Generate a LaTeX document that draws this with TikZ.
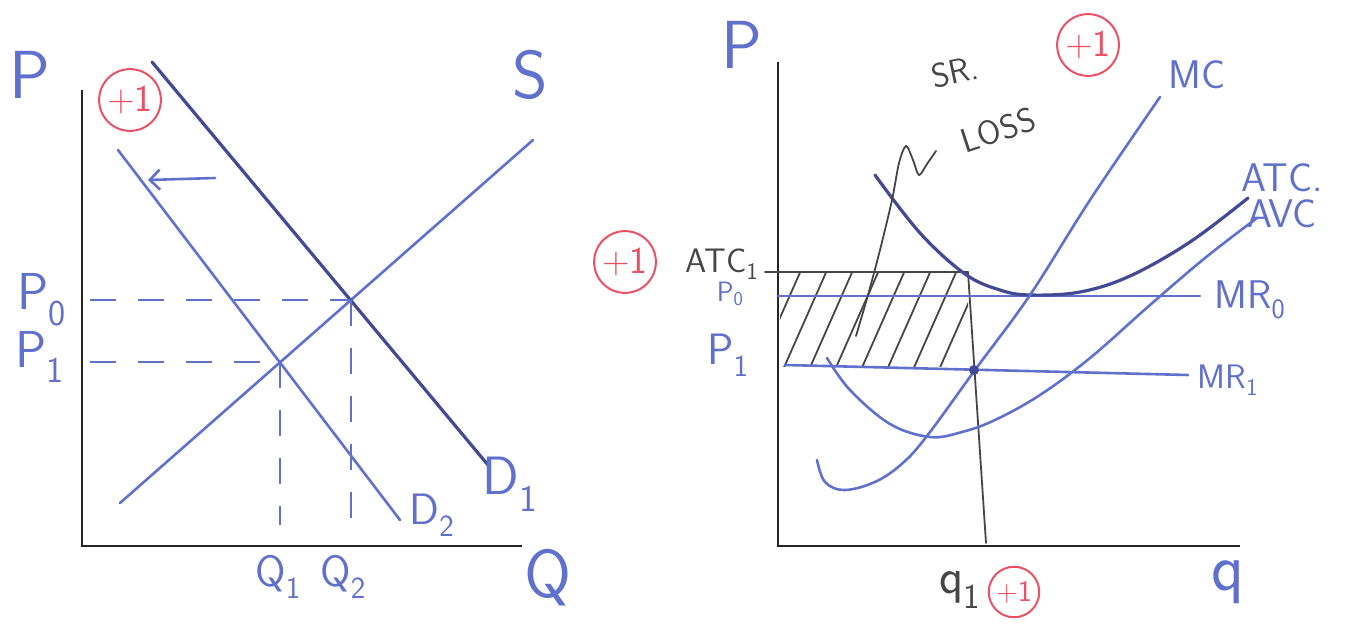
\documentclass[tikz,border=0pt]{standalone}
\usetikzlibrary{arrows.meta}
\definecolor{PenBlue}{RGB}{96,112,205}
\definecolor{InkBlue}{RGB}{66,74,150}
\definecolor{MarkRed}{RGB}{235,80,100}
\definecolor{Pencil}{RGB}{70,70,70}

\begin{document}
\begin{tikzpicture}[
    x=1pt, y=-1pt,
    >={Straight Barb[length=10pt,width=20pt]},
    axis/.style={draw=black!85, line width=2.2pt},
    pen/.style={draw=PenBlue, line width=2.6pt, line cap=round},
    ink/.style={draw=InkBlue, line width=3.2pt, line cap=round},
    pencil/.style={draw=Pencil, line width=1.8pt, line cap=round},
    guide/.style={draw=PenBlue, line width=2pt, dash pattern=on 26pt off 22pt},
    hand/.style={text=PenBlue, inner sep=0pt, font=\sffamily\fontsize{44}{44}\selectfont},
    big/.style={hand, font=\sffamily\fontsize{68}{68}\selectfont},
    small/.style={hand, font=\sffamily\fontsize{34}{34}\selectfont},
    note/.style={text=Pencil, inner sep=0pt, font=\sffamily\fontsize{34}{34}\selectfont},
    score/.style={draw=MarkRed, text=MarkRed, circle, line width=2pt,
        inner sep=3pt, minimum size=58pt, font=\sffamily\fontsize{38}{38}\selectfont}
]
\useasboundingbox (0,0) rectangle (1352,626);

% market: supply and demand
\coordinate (origL) at (82,546);
\coordinate (topL) at (82,90);
\coordinate (endL) at (522,546);
\draw[axis] (topL) -- (origL) -- (endL);

\coordinate (S0) at (120,503);
\coordinate (S1) at (533,140);
\coordinate (Da0) at (152,62);
\coordinate (Da1) at (488,465);
\coordinate (Db0) at (118,150);
\coordinate (Db1) at (400,520);
\draw[pen] (S0) -- (S1);
\draw[ink] (Da0) -- (Da1);
\draw[pen] (Db0) -- (Db1);

\coordinate (E0) at (intersection of S0--S1 and Da0--Da1);
\coordinate (E1) at (intersection of S0--S1 and Db0--Db1);
\draw[guide] (E0 -| origL) ++(8,0) -- (E0);
\draw[guide] (E1 -| origL) ++(8,0) -- (E1);
\draw[guide] (E1) -- (E1 |- 0,525);
\draw[guide] (E0) -- (E0 |- 0,525);

\coordinate (arrowA) at (215,178);
\coordinate (arrowB) at (148,180);
\draw[pen, ->] (arrowA) -- (arrowB);

\node[big] (pL) at (30,75) {P};
\node[big] (sL) at (530,75) {S};
\node[big] (qL) at (548,578) {Q};
\node[hand, font=\sffamily\fontsize{52}{52}\selectfont] (p0L) at (42,300) {P\textsubscript{0}};
\node[hand, font=\sffamily\fontsize{52}{52}\selectfont] (p1L) at (40,357) {P\textsubscript{1}};
\node[hand, font=\sffamily\fontsize{54}{54}\selectfont] (d1L) at (510,484) {D\textsubscript{1}};
\node[hand] (d2L) at (432,515) {D\textsubscript{2}};
\node[hand] (q1L) at (278,577) {Q\textsubscript{1}};
\node[hand] (q2L) at (343,577) {Q\textsubscript{2}};
\node[score, minimum width=56pt] (scoreL) at (130,100) {+1};

% firm: cost curves
\coordinate (origR) at (778,546);
\coordinate (topR) at (778,62);
\coordinate (endR) at (1240,546);
\draw[axis] (topR) -- (origR) -- (endR);

% shaded short-run loss
\begin{scope}
  \clip (780,272) rectangle (968,366);
  \foreach \x in {756,782,808,834,860,886,912,938}
    \draw[pencil] (\x,372) -- ++(46,-104);
\end{scope}

\coordinate (atcA) at (765,272);
\coordinate (atcB) at (968,272);
\coordinate (qBot) at (986,543);
\draw[pencil] (atcA) -- (atcB);
\draw[pencil] (atcB) -- (qBot);

\coordinate (mr0A) at (778,296);
\coordinate (mr0B) at (1200,296);
\coordinate (mr1A) at (785,365);
\coordinate (mr1B) at (1188,375);
\draw[pen] (mr0A) -- (mr0B);
\draw[pen] (mr1A) -- (mr1B);

\draw[ink] plot[smooth, tension=0.6] coordinates {(875,175) (920,233) (965,274)
  (1000,290) (1030,295) (1080,292) (1130,276) (1190,242) (1248,198)};
\draw[pen] plot[smooth, tension=0.6] coordinates {(817,460) (825,482) (845,490)
  (877,481) (905,461) (930,432) (975,370) (1030,295) (1090,200) (1160,97)};
\draw[pen] plot[smooth, tension=0.6] coordinates {(827,358) (850,390) (890,424)
  (930,437) (962,432) (995,420) (1040,395) (1090,358) (1150,305) (1205,258) (1257,218)};
\fill[InkBlue] (974,370) circle (5pt);

% pointer to the loss area
\draw[pencil] plot[smooth, tension=0.5] coordinates {(856,336) (868,295) (880,250)
  (892,200) (899,163) (906,146) (913,160) (919,175) (927,164) (936,151)};

\node[big] (pR) at (742,45) {P};
\node[big] (qR) at (1228,582) {q};
\node[hand, font=\sffamily\fontsize{40}{40}\selectfont] (mcR) at (1197,75) {MC};
\node[hand, font=\sffamily\fontsize{40}{40}\selectfont] (atcR) at (1282,178) {ATC.};
\node[hand, font=\sffamily\fontsize{40}{40}\selectfont] (avcR) at (1282,214) {AVC};
\node[hand, font=\sffamily\fontsize{40}{40}\selectfont] (mr0R) at (1250,300) {MR\textsubscript{0}};
\node[small] (mr1R) at (1228,380) {MR\textsubscript{1}};
\node[hand, font=\sffamily\fontsize{28}{28}\selectfont] (p0R) at (730,294) {P\textsubscript{0}};
\node[hand] (p1R) at (728,355) {P\textsubscript{1}};
\node[note] (atc1R) at (722,264) {ATC\textsubscript{1}};
\node[note, rotate=12] (srR) at (955,72) {SR.};
\node[note, rotate=18] (lossR) at (998,130) {LOSS};
\node[note, font=\sffamily\fontsize{50}{50}\selectfont] (q1R) at (960,590) {q\textsubscript{1}};
\node[score] (scoreA) at (1088,45) {+1};
\node[score] (scoreB) at (625,262) {+1};
\node[score, minimum size=46pt, font=\sffamily\fontsize{30}{30}\selectfont] (scoreC) at (1014,592) {+1};
\end{tikzpicture}
\end{document}
